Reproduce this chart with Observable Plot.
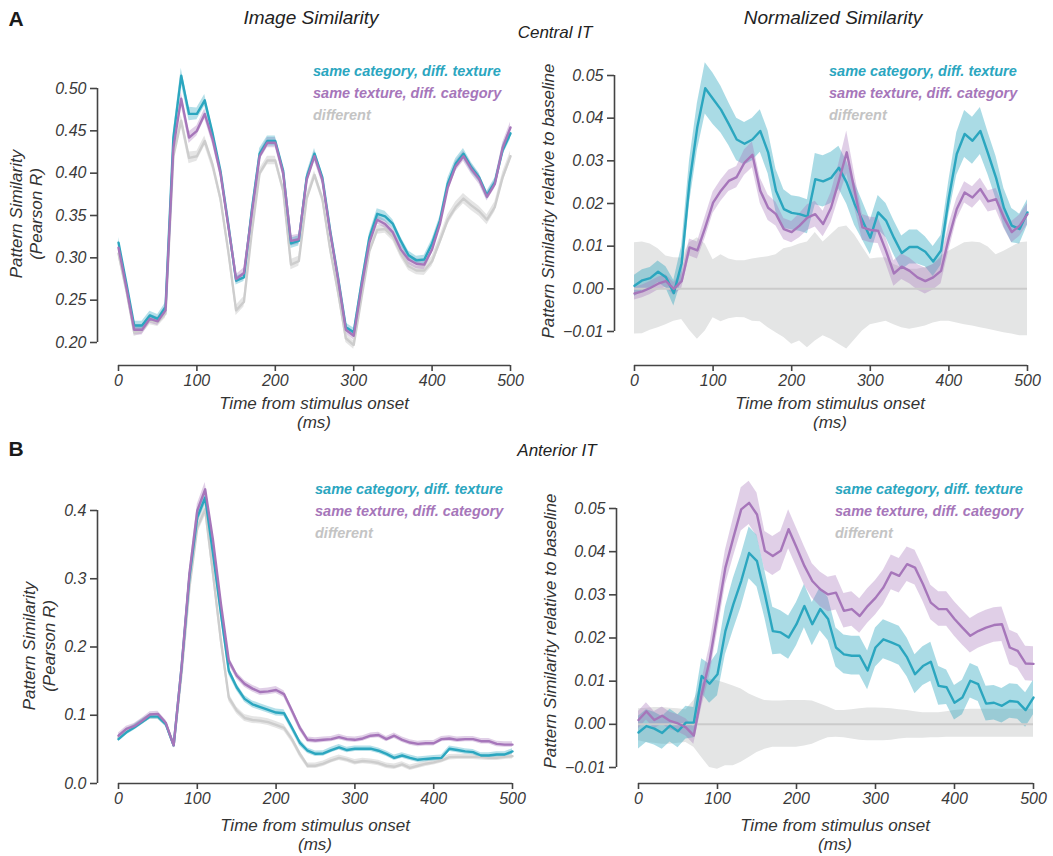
<!DOCTYPE html>
<html><head><meta charset="utf-8">
<script src="https://cdn.jsdelivr.net/npm/d3@7"></script>
<script src="https://cdn.jsdelivr.net/npm/@observablehq/plot@0.6"></script>
<style>
body{margin:0;background:#fff;}
#chart{position:relative;width:1053px;height:856px;font-family:"Liberation Sans",Arial,Helvetica,sans-serif;color:#222;overflow:hidden;}
.t{position:absolute;white-space:pre;font-style:italic;line-height:1.15;text-align:center;}
.panel{position:absolute;}
.panel svg{overflow:visible;}
</style></head><body><div id="chart"></div>
<script>
// ---------- data ----------
const times = [0,10,20,30,40,50,60,70,80,90,100,110,120,130,140,150,160,170,180,190,200,210,220,230,240,250,260,270,280,290,300,310,320,330,340,350,360,370,380,390,400,410,420,430,440,450,460,470,480,490,500];
const xTicks = [0,100,200,300,400,500];
const seriesNames = ["same category, diff. texture", "same texture, diff. category", "different"];
const seriesColors = ["#2ba6bf", "#a676ba", "#c4c4c4"];

// A: Central IT, image similarity (Pearson R)
const aL_cat  = [0.318,0.270,0.220,0.220,0.232,0.228,0.242,0.442,0.515,0.470,0.470,0.486,0.447,0.403,0.340,0.273,0.277,0.356,0.423,0.438,0.438,0.403,0.317,0.320,0.395,0.423,0.395,0.332,0.277,0.218,0.212,0.270,0.324,0.352,0.349,0.340,0.320,0.303,0.297,0.298,0.317,0.344,0.388,0.411,0.423,0.407,0.395,0.374,0.389,0.427,0.447];
const aL_tex  = [0.312,0.265,0.215,0.215,0.228,0.225,0.238,0.430,0.488,0.442,0.450,0.470,0.440,0.400,0.338,0.275,0.282,0.352,0.420,0.436,0.436,0.400,0.320,0.322,0.392,0.420,0.392,0.330,0.275,0.215,0.208,0.266,0.318,0.345,0.340,0.330,0.310,0.298,0.293,0.292,0.310,0.340,0.383,0.408,0.420,0.405,0.393,0.372,0.387,0.430,0.454];
const aL_diff = [0.305,0.262,0.212,0.215,0.226,0.224,0.234,0.420,0.462,0.418,0.420,0.438,0.410,0.370,0.308,0.238,0.248,0.330,0.400,0.415,0.415,0.380,0.292,0.296,0.370,0.398,0.370,0.310,0.260,0.205,0.197,0.253,0.308,0.333,0.334,0.325,0.305,0.290,0.285,0.285,0.296,0.320,0.345,0.360,0.370,0.362,0.355,0.345,0.360,0.395,0.420];
const aL_catErr  = [0.006,0.005,0.005,0.005,0.005,0.005,0.005,0.007,0.009,0.008,0.007,0.007,0.006,0.005,0.005,0.005,0.005,0.005,0.006,0.006,0.006,0.005,0.006,0.006,0.005,0.006,0.005,0.005,0.005,0.005,0.005,0.005,0.005,0.006,0.006,0.005,0.005,0.005,0.005,0.005,0.005,0.005,0.006,0.006,0.006,0.006,0.005,0.005,0.005,0.006,0.007];
const aL_texErr  = [0.006,0.005,0.006,0.006,0.005,0.005,0.005,0.006,0.008,0.007,0.006,0.006,0.006,0.005,0.005,0.005,0.006,0.005,0.005,0.006,0.006,0.005,0.006,0.006,0.005,0.006,0.005,0.005,0.005,0.005,0.005,0.005,0.005,0.005,0.005,0.005,0.006,0.006,0.006,0.006,0.005,0.005,0.005,0.006,0.006,0.006,0.006,0.005,0.005,0.006,0.006];
const aL_diffErr = [0.005,0.005,0.005,0.005,0.005,0.005,0.005,0.006,0.007,0.007,0.006,0.006,0.006,0.005,0.005,0.006,0.006,0.005,0.005,0.005,0.005,0.005,0.006,0.006,0.005,0.005,0.005,0.005,0.005,0.005,0.005,0.005,0.005,0.005,0.005,0.005,0.005,0.005,0.005,0.006,0.006,0.006,0.006,0.006,0.006,0.006,0.006,0.006,0.006,0.006,0.006];

// A: Central IT, normalized similarity (relative to baseline)
const aR_cat = [0.0007,0.0020,0.0025,0.0040,0.0027,-0.0010,0.0060,0.0250,0.0380,0.0470,0.0445,0.0420,0.0386,0.0350,0.0340,0.0350,0.0370,0.0320,0.0230,0.0187,0.0178,0.0175,0.0169,0.0257,0.0252,0.0260,0.0284,0.0249,0.0199,0.0160,0.0120,0.0179,0.0160,0.0120,0.0084,0.0098,0.0098,0.0087,0.0064,0.0090,0.0214,0.0316,0.0363,0.0347,0.0370,0.0316,0.0260,0.0190,0.0148,0.0140,0.0179];
const aR_tex = [-0.0011,-0.0006,0.0002,0.0012,0.0018,0.0000,0.0018,0.0097,0.0090,0.0144,0.0202,0.0230,0.0253,0.0262,0.0296,0.0314,0.0230,0.0190,0.0175,0.0140,0.0133,0.0148,0.0167,0.0175,0.0152,0.0190,0.0253,0.0320,0.0230,0.0144,0.0138,0.0136,0.0089,0.0036,0.0052,0.0042,0.0027,0.0018,0.0027,0.0042,0.0120,0.0187,0.0226,0.0214,0.0234,0.0205,0.0210,0.0167,0.0133,0.0148,0.0175];
const aR_catErr = [0.0025,0.0025,0.0025,0.0025,0.0025,0.0030,0.0040,0.0050,0.0055,0.0060,0.0060,0.0055,0.0050,0.0050,0.0050,0.0050,0.0050,0.0050,0.0050,0.0045,0.0040,0.0040,0.0040,0.0060,0.0060,0.0060,0.0050,0.0050,0.0050,0.0045,0.0040,0.0040,0.0040,0.0040,0.0040,0.0040,0.0040,0.0035,0.0035,0.0035,0.0040,0.0050,0.0055,0.0055,0.0055,0.0050,0.0050,0.0045,0.0040,0.0035,0.0030];
const aR_texErr = [0.0015,0.0015,0.0015,0.0015,0.0015,0.0015,0.0018,0.0020,0.0020,0.0025,0.0025,0.0025,0.0025,0.0025,0.0030,0.0030,0.0030,0.0030,0.0028,0.0025,0.0025,0.0028,0.0030,0.0030,0.0030,0.0035,0.0040,0.0050,0.0040,0.0030,0.0030,0.0030,0.0030,0.0030,0.0030,0.0030,0.0030,0.0030,0.0030,0.0030,0.0030,0.0025,0.0025,0.0025,0.0025,0.0025,0.0025,0.0025,0.0025,0.0025,0.0025];
const aR_diffHi = [0.0108,0.0110,0.0105,0.0094,0.0077,0.0073,0.0072,0.0108,0.0120,0.0105,0.0068,0.0080,0.0070,0.0066,0.0066,0.0070,0.0073,0.0075,0.0080,0.0094,0.0098,0.0105,0.0110,0.0132,0.0110,0.0127,0.0144,0.0147,0.0127,0.0098,0.0070,0.0072,0.0073,0.0057,0.0050,0.0046,0.0046,0.0050,0.0057,0.0077,0.0088,0.0098,0.0108,0.0110,0.0108,0.0098,0.0080,0.0088,0.0098,0.0108,0.0110];
const aR_diffLo = [-0.0106,-0.0105,-0.0097,-0.0091,-0.0084,-0.0076,-0.0072,-0.0097,-0.0118,-0.0099,-0.0068,-0.0077,-0.0070,-0.0067,-0.0068,-0.0076,-0.0077,-0.0091,-0.0103,-0.0114,-0.0130,-0.0122,-0.0138,-0.0122,-0.0110,-0.0118,-0.0130,-0.0141,-0.0120,-0.0099,-0.0084,-0.0080,-0.0076,-0.0084,-0.0091,-0.0095,-0.0091,-0.0087,-0.0080,-0.0076,-0.0076,-0.0080,-0.0084,-0.0087,-0.0091,-0.0095,-0.0099,-0.0103,-0.0106,-0.0110,-0.0110];

// B: Anterior IT, image similarity (Pearson R)
const bL_cat  = [0.065,0.075,0.082,0.090,0.098,0.098,0.087,0.056,0.170,0.302,0.390,0.419,0.336,0.249,0.165,0.141,0.124,0.116,0.112,0.108,0.104,0.103,0.082,0.060,0.048,0.0435,0.044,0.049,0.053,0.049,0.051,0.051,0.051,0.048,0.0435,0.0376,0.041,0.0376,0.0347,0.036,0.037,0.0376,0.051,0.049,0.047,0.046,0.041,0.041,0.0425,0.0425,0.047];
const bL_tex  = [0.070,0.080,0.084,0.092,0.101,0.102,0.089,0.056,0.170,0.307,0.400,0.431,0.356,0.263,0.180,0.158,0.146,0.139,0.134,0.135,0.137,0.131,0.107,0.082,0.064,0.063,0.064,0.065,0.068,0.065,0.064,0.066,0.070,0.071,0.065,0.070,0.064,0.060,0.058,0.059,0.059,0.065,0.066,0.064,0.065,0.065,0.062,0.062,0.058,0.057,0.057];
const bL_diff = [0.067,0.077,0.083,0.091,0.098,0.098,0.088,0.056,0.161,0.287,0.375,0.402,0.307,0.209,0.126,0.107,0.096,0.093,0.092,0.090,0.086,0.0815,0.065,0.0435,0.026,0.026,0.029,0.034,0.0376,0.035,0.031,0.033,0.032,0.030,0.026,0.0245,0.028,0.023,0.026,0.029,0.031,0.034,0.0386,0.039,0.039,0.039,0.0386,0.0376,0.0376,0.039,0.040];
const bL_catErr  = [0.004,0.004,0.004,0.004,0.004,0.004,0.004,0.004,0.006,0.008,0.009,0.010,0.009,0.008,0.006,0.005,0.005,0.005,0.005,0.005,0.005,0.005,0.005,0.005,0.004,0.004,0.004,0.004,0.004,0.004,0.004,0.004,0.004,0.004,0.004,0.004,0.004,0.004,0.004,0.004,0.004,0.004,0.004,0.004,0.004,0.004,0.004,0.004,0.004,0.004,0.004];
const bL_texErr  = [0.004,0.004,0.004,0.004,0.004,0.004,0.004,0.004,0.006,0.008,0.009,0.010,0.009,0.008,0.006,0.005,0.005,0.005,0.005,0.005,0.005,0.005,0.005,0.005,0.004,0.004,0.004,0.004,0.004,0.004,0.004,0.004,0.004,0.004,0.004,0.004,0.004,0.004,0.004,0.004,0.004,0.004,0.004,0.004,0.004,0.004,0.004,0.004,0.004,0.004,0.004];
const bL_diffErr = [0.004,0.004,0.004,0.004,0.004,0.004,0.004,0.004,0.006,0.008,0.009,0.010,0.009,0.008,0.006,0.005,0.005,0.005,0.005,0.005,0.005,0.005,0.005,0.005,0.004,0.004,0.004,0.004,0.004,0.004,0.004,0.004,0.004,0.004,0.004,0.004,0.004,0.004,0.004,0.004,0.004,0.004,0.004,0.004,0.004,0.004,0.004,0.004,0.004,0.004,0.004];

// B: Anterior IT, normalized similarity (relative to baseline)
const bR_cat = [-0.0019,-0.0004,-0.0010,-0.0020,-0.0003,-0.0016,0.0004,0.0004,0.0112,0.0094,0.0116,0.0216,0.0278,0.0332,0.0397,0.0378,0.0301,0.0216,0.0213,0.0201,0.0232,0.0274,0.0232,0.0267,0.0244,0.0178,0.0162,0.0159,0.0159,0.0125,0.0178,0.0197,0.0190,0.0182,0.0155,0.0116,0.0135,0.0145,0.0089,0.0086,0.0050,0.0062,0.0101,0.0093,0.0048,0.0050,0.0043,0.0054,0.0052,0.0033,0.0062];
const bR_tex = [0.0010,0.0030,0.0010,0.0020,0.0008,0.0002,-0.0007,-0.0026,0.0070,0.0147,0.0255,0.0363,0.0432,0.0498,0.0513,0.0486,0.0402,0.0390,0.0402,0.0452,0.0410,0.0367,0.0332,0.0313,0.0301,0.0305,0.0263,0.0267,0.0251,0.0274,0.0293,0.0317,0.0352,0.0344,0.0371,0.0363,0.0325,0.0282,0.0267,0.0267,0.0244,0.0224,0.0205,0.0216,0.0224,0.0230,0.0232,0.0178,0.0170,0.0141,0.0140];
const bR_catErr = [0.0038,0.0038,0.0038,0.0038,0.0038,0.0038,0.0038,0.0035,0.0040,0.0045,0.0050,0.0055,0.0060,0.0060,0.0060,0.0060,0.0055,0.0055,0.0050,0.0050,0.0050,0.0050,0.0050,0.0050,0.0050,0.0045,0.0045,0.0045,0.0045,0.0045,0.0045,0.0045,0.0045,0.0045,0.0045,0.0045,0.0045,0.0045,0.0045,0.0040,0.0040,0.0040,0.0040,0.0040,0.0040,0.0040,0.0040,0.0040,0.0040,0.0040,0.0040];
const bR_texErr = [0.0020,0.0020,0.0020,0.0020,0.0020,0.0020,0.0020,0.0020,0.0030,0.0035,0.0040,0.0040,0.0045,0.0050,0.0050,0.0050,0.0045,0.0045,0.0045,0.0045,0.0045,0.0045,0.0040,0.0040,0.0040,0.0040,0.0040,0.0040,0.0040,0.0040,0.0040,0.0040,0.0040,0.0040,0.0040,0.0040,0.0040,0.0040,0.0040,0.0040,0.0040,0.0040,0.0040,0.0040,0.0040,0.0040,0.0040,0.0040,0.0040,0.0040,0.0040];
const bR_diffHi = [0.0036,0.0037,0.0039,0.0039,0.0037,0.0036,0.0034,0.0055,0.0093,0.0105,0.0101,0.0095,0.0089,0.0082,0.0070,0.0062,0.0055,0.0054,0.0054,0.0055,0.0055,0.0055,0.0054,0.0047,0.0040,0.0032,0.0032,0.0034,0.0036,0.0038,0.0038,0.0037,0.0036,0.0034,0.0032,0.0029,0.0027,0.0027,0.0027,0.0029,0.0032,0.0034,0.0035,0.0035,0.0035,0.0035,0.0035,0.0035,0.0035,0.0035,0.0035];
const bR_diffLo = [-0.0038,-0.0042,-0.0044,-0.0046,-0.0046,-0.0044,-0.0042,-0.0053,-0.0077,-0.0100,-0.0104,-0.0096,-0.0096,-0.0088,-0.0077,-0.0065,-0.0058,-0.0053,-0.0053,-0.0053,-0.0053,-0.0050,-0.0046,-0.0038,-0.0031,-0.0030,-0.0031,-0.0034,-0.0037,-0.0038,-0.0038,-0.0038,-0.0037,-0.0034,-0.0032,-0.0032,-0.0032,-0.0031,-0.0031,-0.0030,-0.0030,-0.0030,-0.0030,-0.0030,-0.0030,-0.0030,-0.0030,-0.0030,-0.0030,-0.0030,-0.0030];

const yTicksAL = [0.20,0.25,0.30,0.35,0.40,0.45,0.50];
const yTicksBL = [0.0,0.1,0.2,0.3,0.4];
const yTicksR  = [-0.01,0.00,0.01,0.02,0.03,0.04,0.05];

// ---------- drawing ----------
const chart = document.getElementById("chart");
const AXIS = "#444";
const TICKTXT = "#3a3a3a";
const FONT = "'Liberation Sans', Arial, Helvetica, sans-serif";

function rowsMean(vals, errs) {
  return times.map((t, i) => ({t, v: vals[i], lo: vals[i] - errs[i], hi: vals[i] + errs[i]}));
}
function rowsBand(lo, hi) {
  return times.map((t, i) => ({t, lo: lo[i], hi: hi[i]}));
}

function panel(cfg) {
  const marks = [];
  for (const b of cfg.bands) {
    marks.push(Plot.areaY(b.rows, {x: "t", y1: "lo", y2: "hi", fill: b.fill, fillOpacity: b.opacity}));
  }
  if (cfg.zero) marks.push(Plot.ruleY([0], {x1: xTicks[0], x2: xTicks[xTicks.length - 1], stroke: "#cbcbcb", strokeWidth: 2}));
  for (const l of cfg.lines) {
    marks.push(Plot.lineY(l.rows, {x: "t", y: "v", stroke: l.stroke, strokeWidth: 2.4}));
  }
  const yT = cfg.yTicks;
  // offset (despined) axes
  marks.push(Plot.ruleX([xTicks[0]], {y1: yT[0], y2: yT[yT.length - 1], dx: cfg.dx, stroke: AXIS, strokeWidth: 1.6}));
  marks.push(Plot.ruleY([yT[0]], {x1: xTicks[0], x2: xTicks[xTicks.length - 1], dy: cfg.dy, stroke: AXIS, strokeWidth: 1.6}));
  marks.push(Plot.axisY(yT, {tickFormat: d3.format(cfg.fmt), tickSize: 7, tickPadding: 4, dx: cfg.dx, label: null, stroke: AXIS, strokeWidth: 1.6, fill: TICKTXT, fontSize: 16, fontStyle: "italic"}));
  marks.push(Plot.axisX(xTicks, {tickFormat: d => String(d), tickSize: 6, tickPadding: 3, dy: cfg.dy, label: null, stroke: AXIS, strokeWidth: 1.6, fill: TICKTXT, fontSize: 16, fontStyle: "italic"}));

  const svg = Plot.plot({
    width: cfg.width, height: cfg.height,
    marginLeft: cfg.mL, marginRight: cfg.mR, marginTop: cfg.mT, marginBottom: cfg.mB,
    x: {domain: [xTicks[0], xTicks[xTicks.length - 1]]},
    y: {domain: [yT[0], yT[yT.length - 1]]},
    style: {fontFamily: FONT, fontSize: "16px", background: "transparent", overflow: "visible"},
    marks
  });
  const div = document.createElement("div");
  div.className = "panel";
  div.style.left = cfg.left + "px";
  div.style.top = cfg.top + "px";
  div.appendChild(svg);
  chart.appendChild(div);
}

function text(str, cx, cy, opt = {}) {
  const d = document.createElement("div");
  d.className = "t";
  d.textContent = str;
  d.style.left = cx + "px";
  d.style.top = cy + "px";
  d.style.fontSize = (opt.size || 17) + "px";
  if (opt.bold) d.style.fontWeight = "bold";
  if (opt.normal) d.style.fontStyle = "normal";
  d.style.color = opt.color || "#333";
  if (opt.lh) d.style.lineHeight = opt.lh + "px";
  const anchor = opt.left ? "translate(0,-50%)" : "translate(-50%,-50%)";
  d.style.transform = anchor + (opt.rotate ? " rotate(-90deg)" : "");
  chart.appendChild(d);
}

function legend(x, y) {
  seriesNames.forEach((n, i) => text(n, x, y + i * 22, {left: true, bold: true, size: 14.5, color: seriesColors[i]}));
}

const [cTeal, cPurp, cGrey] = seriesColors;

// Panel A left
panel({left: 0, top: 0, width: 530, height: 440, mL: 118, mR: 20, mT: 88, mB: 98,
  yTicks: yTicksAL, fmt: ".2f", dx: -21, dy: 23,
  bands: [
    {rows: rowsMean(aL_diff, aL_diffErr), fill: "#cfcfcf", opacity: 0.55},
    {rows: rowsMean(aL_tex, aL_texErr), fill: cPurp, opacity: 0.35},
    {rows: rowsMean(aL_cat, aL_catErr), fill: cTeal, opacity: 0.35}
  ],
  lines: [
    {rows: rowsMean(aL_diff, aL_diffErr), stroke: "#cdcdcd"},
    {rows: rowsMean(aL_cat, aL_catErr), stroke: cTeal},
    {rows: rowsMean(aL_tex, aL_texErr), stroke: cPurp}
  ]});

// Panel A right
panel({left: 530, top: 0, width: 523, height: 440, mL: 104, mR: 26, mT: 75, mB: 109,
  yTicks: yTicksR, fmt: ".2f", dx: -20, dy: 34, zero: true,
  bands: [
    {rows: rowsBand(aR_diffLo, aR_diffHi), fill: "#e4e5e5", opacity: 1},
    {rows: rowsMean(aR_cat, aR_catErr), fill: cTeal, opacity: 0.4},
    {rows: rowsMean(aR_tex, aR_texErr), fill: cPurp, opacity: 0.35}
  ],
  lines: [
    {rows: rowsMean(aR_cat, aR_catErr), stroke: cTeal},
    {rows: rowsMean(aR_tex, aR_texErr), stroke: cPurp}
  ]});

// Panel B left
panel({left: 0, top: 440, width: 530, height: 416, mL: 118, mR: 18, mT: 70, mB: 73,
  yTicks: yTicksBL, fmt: ".1f", dx: -21, dy: 0,
  bands: [
    {rows: rowsMean(bL_diff, bL_diffErr), fill: "#cfcfcf", opacity: 0.55},
    {rows: rowsMean(bL_tex, bL_texErr), fill: cPurp, opacity: 0.35},
    {rows: rowsMean(bL_cat, bL_catErr), fill: cTeal, opacity: 0.35}
  ],
  lines: [
    {rows: rowsMean(bL_diff, bL_diffErr), stroke: "#cdcdcd"},
    {rows: rowsMean(bL_cat, bL_catErr), stroke: cTeal},
    {rows: rowsMean(bL_tex, bL_texErr), stroke: cPurp}
  ]});

// Panel B right
panel({left: 530, top: 440, width: 523, height: 416, mL: 108, mR: 20, mT: 68, mB: 89,
  yTicks: yTicksR, fmt: ".2f", dx: -22, dy: 16, zero: true,
  bands: [
    {rows: rowsBand(bR_diffLo, bR_diffHi), fill: "#e4e5e5", opacity: 1},
    {rows: rowsMean(bR_cat, bR_catErr), fill: cTeal, opacity: 0.4},
    {rows: rowsMean(bR_tex, bR_texErr), fill: cPurp, opacity: 0.35}
  ],
  lines: [
    {rows: rowsMean(bR_cat, bR_catErr), stroke: cTeal},
    {rows: rowsMean(bR_tex, bR_texErr), stroke: cPurp}
  ]});

// titles and labels
text("A", 16, 19, {bold: true, normal: true, size: 21, color: "#1a1a1a"});
text("B", 16, 449, {bold: true, normal: true, size: 21, color: "#1a1a1a"});
text("Image Similarity", 311, 18, {size: 19, color: "#222"});
text("Normalized Similarity", 833, 18, {size: 19, color: "#222"});
text("Central IT", 555, 33, {size: 17, color: "#222"});
text("Anterior IT", 557, 451, {size: 17, color: "#222"});

text("Pattern Similarity\n(Pearson R)", 27, 214, {rotate: true, size: 17, lh: 20});
text("Pattern Similarity relative to baseline", 549, 201, {rotate: true, size: 17});
text("Pattern Similarity\n(Pearson R)", 40, 646, {rotate: true, size: 17, lh: 20});
text("Pattern Similarity relative to baseline", 551, 631, {rotate: true, size: 17});

text("Time from stimulus onset\n(ms)", 314, 413, {size: 17, lh: 19});
text("Time from stimulus onset\n(ms)", 830, 413, {size: 17, lh: 19});
text("Time from stimulus onset\n(ms)", 315, 835, {size: 17, lh: 19});
text("Time from stimulus onset\n(ms)", 835, 835, {size: 17, lh: 19});

legend(313, 71);
legend(829, 71);
legend(315, 489);
legend(835, 489);
</script></body></html>
